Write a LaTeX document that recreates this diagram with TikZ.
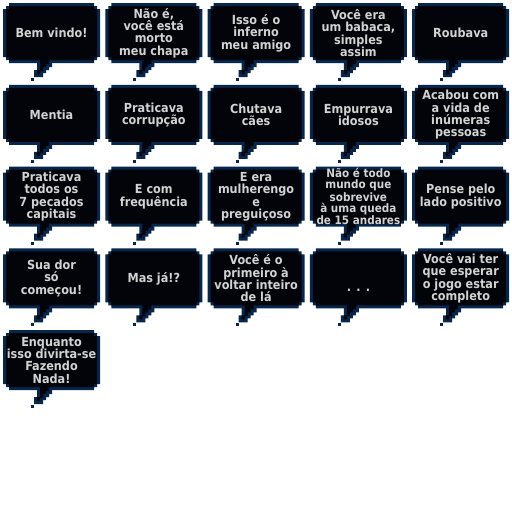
\documentclass[tikz,border=0pt]{standalone}
\usepackage{fontspec}
\newfontfamily\pixfont{DejaVu Sans Condensed}
\definecolor{bubnavy}{RGB}{6,38,76}
\definecolor{bubblack}{RGB}{2,4,10}
\definecolor{bubtextc}{RGB}{210,210,210}
\tikzset{
  bubborder/.style={fill=bubnavy},
  bubbody/.style={fill=bubblack},
  bubtext/.style={text=bubtextc, font=\pixfont\bfseries\fontsize{12.5}{12.4}\selectfont, align=center, inner sep=0pt},
}
\newcommand\bubblecell[6][]{%
  \begin{scope}[shift={({3+102.3*#2},{3+81.8*#3})}]
    \fill[bubborder] (6,0)--(91,0)--(91,3)--(94,3)--(94,6)--(97,6)--(97,54)--(94,54)--(94,57)--(91,57)--(91,60)--(6,60)--(6,57)--(3,57)--(3,54)--(0,54)--(0,6)--(3,6)--(3,3)--(6,3)--cycle;
    \fill[bubborder] (34,57)--(49,57)--(49,64)--(46,64)--(46,67)--(43,67)--(43,70)--(40,70)--(40,74)--(31,74)--(31,67)--(34,67)--cycle;
    \fill[bubborder] (28,75) rectangle (31,78);
    \fill[bubbody] (6,3)--(91,3)--(91,6)--(94,6)--(94,54)--(91,54)--(91,57)--(6,57)--(6,54)--(3,54)--(3,6)--(6,6)--cycle;
    \fill[bubbody] (37,54)--(46,54)--(46,61)--(43,61)--(43,64)--(40,64)--(40,68)--(37,68)--(37,71)--(34,71)--(34,67)--(37,67)--cycle;
    \node[bubtext,#1] (#4) at (48.5,#5) {#6};
  \end{scope}}
\begin{document}
\begin{tikzpicture}[x=1pt,y=-1pt]
\fill[white] (0,0) rectangle (512,512);
\useasboundingbox (0,0) rectangle (512,512);
% row 1
\bubblecell{0}{0}{b11}{30}{Bem vindo!}
\bubblecell{1}{0}{b12}{30}{Não é,\\você está\\morto\\meu chapa}
\bubblecell{2}{0}{b13}{30}{Isso é o\\inferno\\meu amigo}
\bubblecell{3}{0}{b14}{30}{Você era\\um babaca,\\simples\\assim}
\bubblecell{4}{0}{b15}{30}{Roubava}
% row 2
\bubblecell{0}{1}{b21}{30}{Mentia}
\bubblecell{1}{1}{b22}{30}{Praticava\\corrupção}
\bubblecell{2}{1}{b23}{30}{Chutava\\cães}
\bubblecell{3}{1}{b24}{30}{Empurrava\\idosos}
\bubblecell{4}{1}{b25}{30}{Acabou com\\a vida de\\inúmeras\\pessoas}
% row 3
\bubblecell{0}{2}{b31}{30}{Praticava\\todos os\\7 pecados\\capitais}
\bubblecell{1}{2}{b32}{30}{E com\\frequência}
\bubblecell{2}{2}{b33}{30}{E era\\mulherengo\\e\\preguiçoso}
\bubblecell[font=\pixfont\bfseries\fontsize{11.6}{11.1}\selectfont]{3}{2}{b34}{30}{Não é todo\\mundo que\\sobrevive\\à uma queda\\de 15 andares}
\bubblecell{4}{2}{b35}{30}{Pense pelo\\lado positivo}
% row 4
\bubblecell{0}{3}{b41}{30}{Sua dor\\só\\começou!}
\bubblecell{1}{3}{b42}{30}{Mas já!?}
\bubblecell{2}{3}{b43}{30}{Você é o\\primeiro à\\voltar inteiro\\de lá}
\bubblecell{3}{3}{b44}{41.5}{. . .}
\bubblecell{4}{3}{b45}{30}{Você vai ter\\que esperar\\o jogo estar\\completo}
% row 5
\bubblecell{0}{4}{b51}{30}{Enquanto\\isso divirta-se\\Fazendo\\Nada!}
\end{tikzpicture}
\end{document}
